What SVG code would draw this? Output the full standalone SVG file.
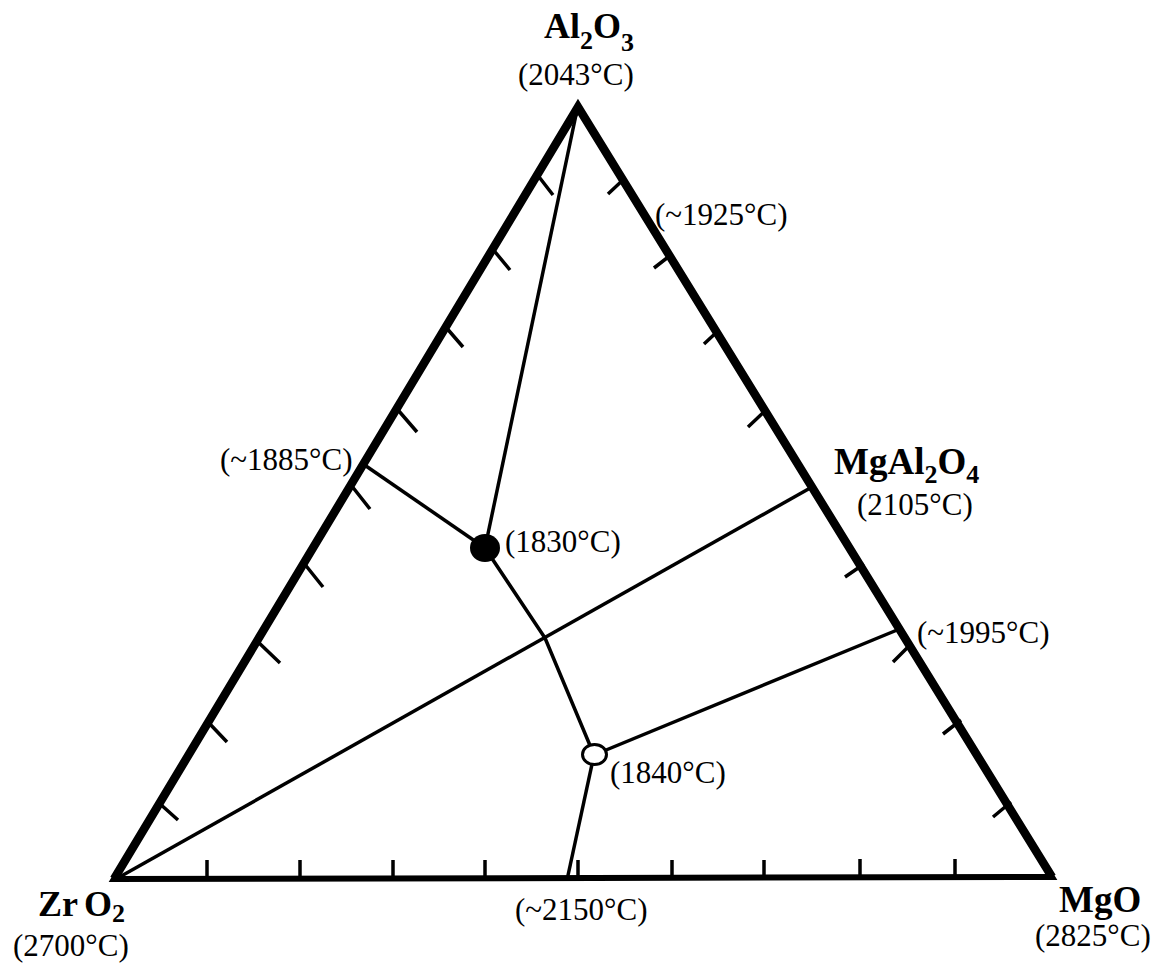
<svg xmlns="http://www.w3.org/2000/svg" width="1162" height="964" viewBox="0 0 1162 964">
<style>
.edge{fill:none;stroke:#000;stroke-linejoin:miter;stroke-miterlimit:10}
.tick{stroke:#000;stroke-width:3.5;fill:none}
.ln{stroke:#000;stroke-width:3.5;fill:none;stroke-linejoin:round}
.t{font-family:"Liberation Serif","Times New Roman",serif;font-size:31px;fill:#000}
.f{font-family:"Liberation Serif","Times New Roman",serif;font-weight:bold;fill:#000}
.s{font-size:26px}
</style>
<rect width="1162" height="964" fill="#fff"/>
<g id="triangle">
<polygon class="edge" stroke-width="6" points="578,107 1052,877 114,879"/>
<polyline class="edge" stroke-width="8.5" points="114,879 578,107 1052,877"/>
</g>
<g id="ticks">
<path class="tick" d="M536,173 L553,195 M491,247 L510,270 M444,325 L463,347 M398,410 L417,432 M351,485 L370,509 M303,562 L323,587 M256,640 L280,663 M208,722 L227,742 M159,803 L178,820"/>
<path class="tick" d="M624,179 L608,194 M672,254 L654,268 M719,330 L704,344 M766,410 L748,427 M864,564 L845,577 M911,644 L893,662 M961,720 L943,734 M1011,802 L993,817"/>
<path class="tick" d="M207,879 V860 M300,879 V860 M393,879 V860 M485,879 V860 M578,879 V860 M672,879 V860 M764,879 V860 M860,878 V859 M955,878 V859"/>
</g>
<g id="connectors">
<line class="ln" x1="116" y1="879" x2="812" y2="487"/>
<line class="ln" x1="577" y1="110" x2="485" y2="548"/>
<line class="ln" x1="366" y1="466" x2="485" y2="548"/>
<polyline class="ln" points="485,548 545,638 594,755"/>
<line class="ln" x1="594" y1="755" x2="567" y2="880"/>
<line class="ln" x1="594" y1="755" x2="902" y2="628"/>
</g>
<g id="eutectic-1830">
<ellipse cx="485" cy="548" rx="15" ry="14" fill="#000"/>
<text class="t" x="505" y="552">(1830°C)</text>
</g>
<g id="point-1840">
<ellipse cx="594.5" cy="754.5" rx="12" ry="10" fill="#fff" stroke="#000" stroke-width="3"/>
<text class="t" x="610" y="783">(1840°C)</text>
</g>
<g id="Al2O3">
<text class="f" font-size="36" x="544" y="38">Al<tspan class="s" dy="11">2</tspan><tspan dy="-11">O</tspan><tspan class="s" dy="13">3</tspan></text>
<text class="t" x="518" y="85">(2043°C)</text>
</g>
<g id="ZrO2">
<text class="f" font-size="36" x="38" y="916">Zr<tspan x="84">O</tspan><tspan class="s" font-size="25" dy="6">2</tspan></text>
<text class="t" x="13" y="956">(2700°C)</text>
</g>
<g id="MgO">
<text class="f" font-size="37" x="1059" y="912">MgO</text>
<text class="t" x="1035" y="946">(2825°C)</text>
</g>
<g id="MgAl2O4">
<text class="f" font-size="37" x="834" y="474">MgAl<tspan class="s" dy="9">2</tspan><tspan dy="-9">O</tspan><tspan class="s" dy="9">4</tspan></text>
<text class="t" x="857" y="515">(2105°C)</text>
</g>
<g id="labels">
<text class="t" x="655" y="225">(~1925°C)</text>
<text class="t" x="220" y="470">(~1885°C)</text>
<text class="t" x="917" y="643">(~1995°C)</text>
<text class="t" x="515" y="920">(~2150°C)</text>
</g>
</svg>
